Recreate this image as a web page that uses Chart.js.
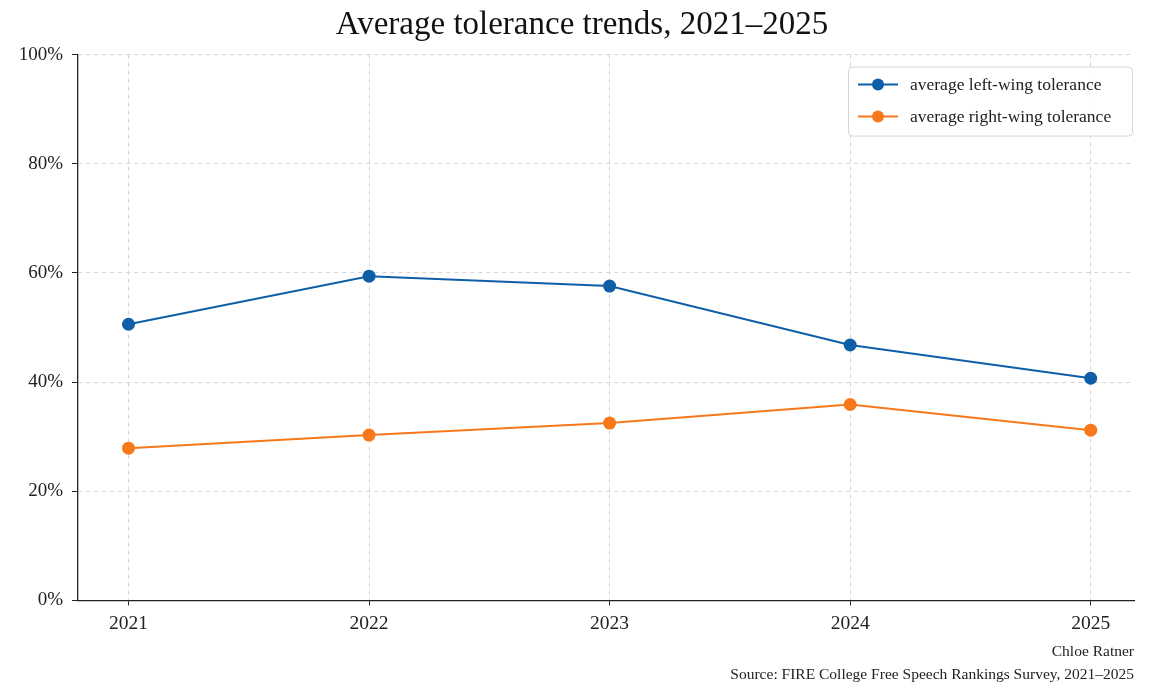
<!DOCTYPE html>
<html>
<head>
<meta charset="utf-8">
<script src="https://cdn.jsdelivr.net/npm/chart.js@4.4.1/dist/chart.umd.min.js"></script>
<style>
  html, body { margin: 0; padding: 0; background: #ffffff; }
  #wrap { width: 1164px; height: 698px; position: relative; }
</style>
</head>
<body>
<div id="wrap"><canvas id="c"></canvas></div>
<script>
const years = [2021, 2022, 2023, 2024, 2025];
const leftWing = [50.6, 59.4, 57.6, 46.8, 40.7];
const rightWing = [27.9, 30.3, 32.5, 35.9, 31.2];
const yTicks = [0, 20, 40, 60, 80, 100];
const seriesLabels = ['average left-wing tolerance', 'average right-wing tolerance'];
const titleText = 'Average tolerance trends, 2021\u20132025';
const footerLines = ['Chloe Ratner', 'Source: FIRE College Free Speech Rankings Survey, 2021\u20132025'];

const BLUE = '#0f5fa8';
const ORANGE = '#f7781a';
const SERIF = "'Liberation Serif', 'DejaVu Serif', serif";

const legendPlugin = {
  id: 'boxLegend',
  afterDatasetsDraw(chart) {
    const ctx = chart.ctx;
    const area = chart.chartArea;
    const x0 = area.right - 286, y0 = area.top + 12, w = 284, h = 69;
    ctx.save();
    ctx.fillStyle = 'rgba(255,255,255,0.85)';
    ctx.strokeStyle = '#d6d6d6';
    ctx.lineWidth = 1;
    ctx.beginPath();
    ctx.roundRect(x0 + 0.5, y0 + 0.5, w, h, 4);
    ctx.fill();
    ctx.stroke();
    ctx.font = "17.5px " + SERIF;
    ctx.textBaseline = 'middle';
    ctx.textAlign = 'left';
    chart.data.datasets.forEach((ds, i) => {
      const cy = y0 + 18 + i * 32;
      ctx.strokeStyle = ds.borderColor;
      ctx.lineWidth = 2;
      ctx.beginPath();
      ctx.moveTo(x0 + 10, cy);
      ctx.lineTo(x0 + 50, cy);
      ctx.stroke();
      ctx.fillStyle = ds.borderColor;
      ctx.beginPath();
      ctx.arc(x0 + 30, cy, 6, 0, Math.PI * 2);
      ctx.fill();
      ctx.fillStyle = '#222';
      ctx.fillText(ds.label, x0 + 62, cy + 1);
    });
    ctx.restore();
  }
};

new Chart(document.getElementById('c'), {
  type: 'line',
  data: {
    datasets: [
      {
        label: seriesLabels[0],
        data: years.map((y, i) => ({ x: y, y: leftWing[i] })),
        borderColor: BLUE, backgroundColor: BLUE,
        borderWidth: 2, pointRadius: 6.5, pointHoverRadius: 6.5,
        pointBackgroundColor: BLUE, pointBorderWidth: 0, tension: 0
      },
      {
        label: seriesLabels[1],
        data: years.map((y, i) => ({ x: y, y: rightWing[i] })),
        borderColor: ORANGE, backgroundColor: ORANGE,
        borderWidth: 2, pointRadius: 6.5, pointHoverRadius: 6.5,
        pointBackgroundColor: ORANGE, pointBorderWidth: 0, tension: 0
      }
    ]
  },
  options: {
    responsive: true,
    maintainAspectRatio: false,
    animation: false,
    devicePixelRatio: 1,
    layout: { padding: { left: 15, right: 15, top: 0, bottom: 12 } },
    plugins: {
      legend: { display: false },
      tooltip: { enabled: false },
      title: {
        display: true, text: titleText, color: '#111',
        font: { family: SERIF, size: 33, weight: 'normal' },
        padding: { top: 6, bottom: 9 }
      },
      subtitle: {
        display: true, position: 'bottom', align: 'end', text: footerLines, fullSize: false,
        color: '#222', font: { family: SERIF, size: 15.5, weight: 'normal', lineHeight: 1.47 },
        padding: { top: 0, bottom: 0 }
      }
    },
    scales: {
      x: {
        type: 'linear',
        min: 2020.79, max: 2025.18,
        afterBuildTicks(scale) { scale.ticks = years.map(v => ({ value: v })); },
        afterFit(scale) { scale.height = 40; },
        ticks: {
          color: '#222', font: { family: SERIF, size: 19.5 }, padding: 7,
          callback: v => String(v)
        },
        grid: { color: '#d4d4d4', lineWidth: 1, tickLength: 5, tickColor: '#222', tickWidth: 1 },
        border: { display: true, color: '#222', width: 1.3, dash: [4, 4] }
      },
      y: {
        min: 0, max: 100,
        afterBuildTicks(scale) { scale.ticks = yTicks.map(v => ({ value: v })); },
        afterFit(scale) { scale.width = 63; },
        ticks: {
          color: '#222', font: { family: SERIF, size: 19 }, padding: 9,
          callback: v => v + '%'
        },
        grid: { color: '#d4d4d4', lineWidth: 1, tickLength: 6, tickColor: '#222', tickWidth: 1 },
        border: { display: true, color: '#222', width: 1.3, dash: [4, 4] }
      },
      yRightSpacer: {
        position: 'right',
        min: 0, max: 100,
        afterFit(scale) { scale.width = 15; },
        ticks: { display: false },
        grid: { display: false, drawTicks: false },
        border: { display: false }
      }
    }
  },
  plugins: [legendPlugin]
});
</script>
</body>
</html>
